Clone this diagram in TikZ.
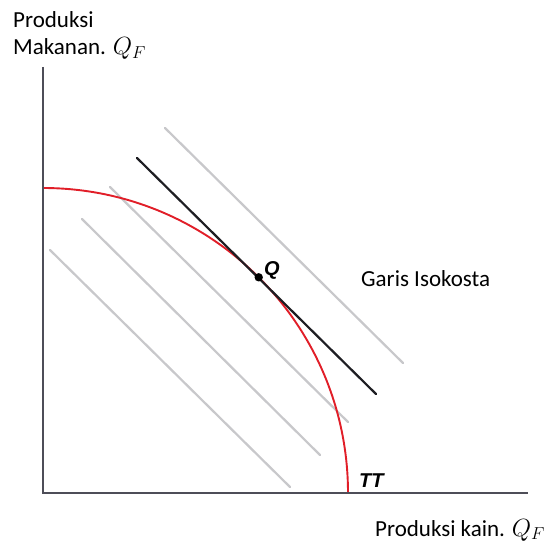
\documentclass[tikz,border=0pt]{standalone}
\usepackage{fontspec}
\setmainfont{Carlito}
\newfontfamily\labelfont{Liberation Sans}
\begin{document}
\begin{tikzpicture}[x=1pt,y=-1pt,
  axisline/.style={line width=2.6pt,draw={rgb,255:red,78;green,78;blue,88}},
  isoline/.style={line width=2.2pt,draw={rgb,255:red,200;green,200;blue,203},line cap=round},
  budgetline/.style={line width=2.2pt,draw={rgb,255:red,30;green,30;blue,35},line cap=round},
  ppf/.style={line width=1.9pt,draw={rgb,255:red,225;green,30;blue,40}},
  txt/.style={inner sep=0pt,anchor=base west,font=\fontsize{23}{28}\selectfont},
  ptlabel/.style={inner sep=0pt,anchor=base west,font=\labelfont\bfseries\itshape\fontsize{20}{24}\selectfont}]
\useasboundingbox (0,0) rectangle (546,545);
\fill[white] (0,0) rectangle (546,545);
% axes
\coordinate (O) at (43,493);
\coordinate (Ytop) at (43,67);
\coordinate (Xend) at (528,493);
% iso-cost lines
\coordinate (a1) at (165,128); \coordinate (b1) at (403,363);
\coordinate (a2) at (110,187); \coordinate (b2) at (348,422);
\coordinate (a3) at (82,219);  \coordinate (b3) at (320,455);
\coordinate (a4) at (50,250);  \coordinate (b4) at (290,487);
\draw[isoline] (a1) -- (b1);
\draw[isoline] (a2) -- (b2);
\draw[isoline] (a3) -- (b3);
\draw[isoline] (a4) -- (b4);
% production possibility frontier
\coordinate (Ppf0) at (43,188);
\draw[ppf] (Ppf0) arc[start angle=90,end angle=0,radius=305pt];
% tangent line
\coordinate (Q) at (258.7,277.3);
\coordinate (t1) at (137,158);
\coordinate (t2) at (376,394);
\draw[budgetline] (t1) -- (t2);
\draw[axisline] (Ytop) -- (O) -- (Xend);
\fill[black] (Q) circle (4.2pt);
% labels
\node[ptlabel] (qlab) at (264,276) {Q};
\node[ptlabel] (ttlab) at (359,487) {TT};
\node[txt] (ylab1) at (13,28) {Produksi};
\node[txt] (ylab2) at (13,55) {Makanan. $Q_F$};
\node[txt] (iso) at (361,287) {Garis Isokosta};
\node[txt] (xlab) at (375,536) {Produksi kain. $Q_F$};
\end{tikzpicture}
\end{document}
